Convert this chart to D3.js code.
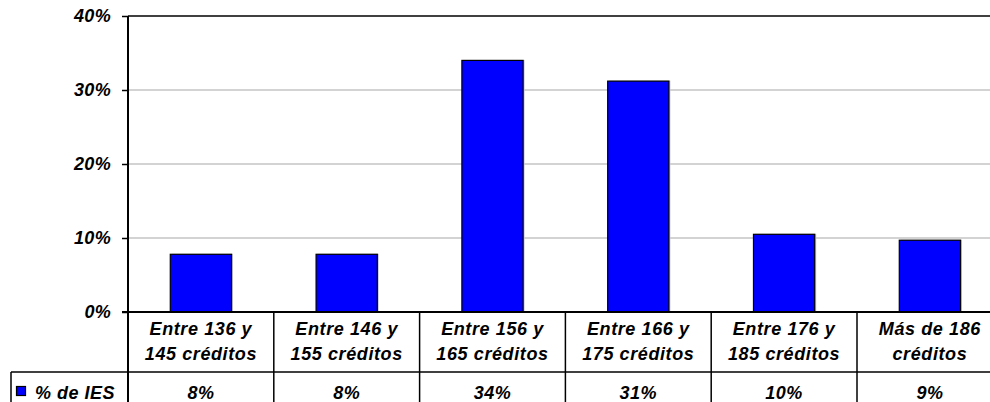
<!DOCTYPE html>
<html>
<head>
<meta charset="utf-8">
<script src="https://cdn.jsdelivr.net/npm/d3@7"></script>
<style>
  html, body { margin: 0; padding: 0; background: #fff; overflow: hidden; }
  svg { display: block; }
  text { font-family: "Liberation Sans", Arial, sans-serif; font-weight: bold; font-style: italic; fill: #000; }
</style>
</head>
<body>
<svg id="chart" width="990" height="402"></svg>
<script>
const categories = [
  ["Entre 136 y", "145 créditos"],
  ["Entre 146 y", "155 créditos"],
  ["Entre 156 y", "165 créditos"],
  ["Entre 166 y", "175 créditos"],
  ["Entre 176 y", "185 créditos"],
  ["Más de 186", "créditos"]
];
const values = [7.8, 7.8, 34.0, 31.2, 10.5, 9.7];
const tableLabels = ["8%", "8%", "34%", "31%", "10%", "9%"];
const seriesName = "% de IES";
const yTicks = [0, 10, 20, 30, 40];

const svg = d3.select("#chart");
const plotLeft = 128, plotTop = 16, plotBottom = 312, catW = 145.8;
const plotRight = plotLeft + catW * categories.length;
const rowLine = 372, tableBottom = 440;

const x = d3.scaleBand().domain(d3.range(categories.length)).range([plotLeft, plotRight]).paddingInner(0).paddingOuter(0);
const y = d3.scaleLinear().domain([0, 40]).range([plotBottom, plotTop]);
const barW = x.bandwidth() * 0.42;

// gridlines
svg.append("g").selectAll("line").data(yTicks.filter(t => t > 0 && t < 40)).join("line")
  .attr("x1", plotLeft).attr("x2", plotRight)
  .attr("y1", d => y(d)).attr("y2", d => y(d))
  .attr("stroke", "#a8a8a8").attr("stroke-width", 1.2);

// top plot border
svg.append("line").attr("x1", plotLeft).attr("x2", plotRight).attr("y1", y(40)).attr("y2", y(40))
  .attr("stroke", "#000").attr("stroke-width", 1.5);

// bars (shadow + bar)
svg.append("g").selectAll("rect").data(values).join("rect")
  .attr("x", (d, i) => x(i) + (x.bandwidth() - barW) / 2 + 1.5)
  .attr("y", d => y(d) - 0.5)
  .attr("width", barW).attr("height", d => plotBottom - y(d))
  .attr("fill", "#c8c8c8");
svg.append("g").selectAll("rect").data(values).join("rect")
  .attr("x", (d, i) => x(i) + (x.bandwidth() - barW) / 2)
  .attr("y", d => y(d))
  .attr("width", barW).attr("height", d => plotBottom - y(d))
  .attr("fill", "#0000ff").attr("stroke", "#000").attr("stroke-width", 1.2);

// y axis
const yAxis = d3.axisLeft(y).tickValues(yTicks).tickSize(6).tickPadding(11).tickFormat(d => d + "%");
const ga = svg.append("g").attr("transform", `translate(${plotLeft},0)`).call(yAxis);
ga.select(".domain").remove();
ga.selectAll(".tick line").attr("stroke", "#000").attr("stroke-width", 1.5);
ga.selectAll(".tick text").attr("font-size", 18).attr("font-family", "Liberation Sans, Arial, sans-serif")
  .attr("font-weight", "bold").attr("font-style", "italic").attr("fill", "#000")
  .attr("letter-spacing", 0.3);
svg.append("line").attr("x1", plotLeft).attr("x2", plotLeft).attr("y1", plotTop).attr("y2", tableBottom)
  .attr("stroke", "#000").attr("stroke-width", 2);
// zero line
svg.append("line").attr("x1", plotLeft - 6).attr("x2", plotRight).attr("y1", plotBottom).attr("y2", plotBottom)
  .attr("stroke", "#000").attr("stroke-width", 2);

// table vertical lines
svg.append("g").selectAll("line").data(d3.range(1, categories.length + 1)).join("line")
  .attr("x1", i => x(0) + i * x.bandwidth()).attr("x2", i => x(0) + i * x.bandwidth())
  .attr("y1", plotBottom).attr("y2", tableBottom)
  .attr("stroke", "#000").attr("stroke-width", 1.5);
// row line
svg.append("line").attr("x1", 11).attr("x2", plotRight).attr("y1", rowLine).attr("y2", rowLine)
  .attr("stroke", "#000").attr("stroke-width", 1.5);
svg.append("line").attr("x1", 11).attr("x2", 11).attr("y1", rowLine).attr("y2", tableBottom)
  .attr("stroke", "#000").attr("stroke-width", 1.5);

// category labels
const cl = svg.append("g").selectAll("text").data(categories).join("text")
  .attr("text-anchor", "middle").attr("font-size", 18).attr("letter-spacing", 0.6);
cl.append("tspan").attr("x", (d, i) => x(i) + x.bandwidth() / 2).attr("y", 335).text(d => d[0]);
cl.append("tspan").attr("x", (d, i) => x(i) + x.bandwidth() / 2).attr("y", 360).text(d => d[1]);

// table values
svg.append("g").selectAll("text").data(tableLabels).join("text")
  .attr("text-anchor", "middle").attr("font-size", 18).attr("letter-spacing", 0.5)
  .attr("x", (d, i) => x(i) + x.bandwidth() / 2).attr("y", 399).text(d => d);

// legend key
svg.append("rect").attr("x", 16.5).attr("y", 386.5).attr("width", 9).attr("height", 9)
  .attr("fill", "#0000ff").attr("stroke", "#000").attr("stroke-width", 1.2);
svg.append("text").attr("x", 35).attr("y", 399).attr("font-size", 18).attr("letter-spacing", 0.5).text(seriesName);
</script>
</body>
</html>
